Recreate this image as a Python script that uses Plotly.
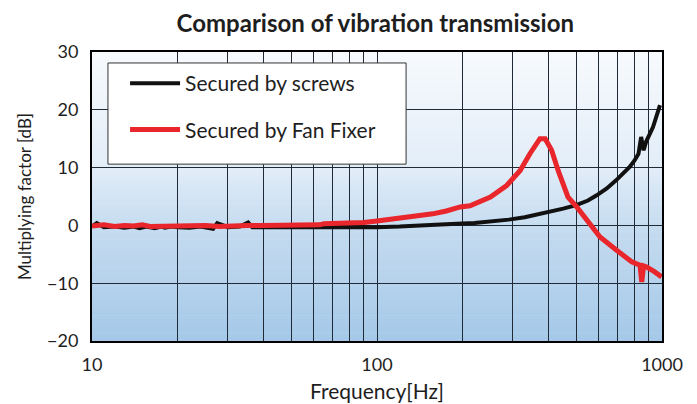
import plotly.graph_objects as go

# ---------------- data ----------------
freq_screws = [10, 10.4, 11, 12, 13, 14, 14.7, 15.5, 16.6, 17.5, 18, 19, 20, 22, 24, 26.6, 27.5, 30, 33,
               35.3, 36.5, 40, 45, 50, 55, 60, 65, 70, 80, 90, 100, 120, 140, 166, 190, 220, 250,
               290, 330, 370, 405, 450, 500, 550, 590, 640, 690, 730, 770, 800, 827, 845, 862,
               880, 930, 984]
val_screws = [-0.2, 0.4, -0.3, -0.2, -0.4, -0.2, -0.5, -0.2, -0.5, -0.2, -0.4, -0.2, -0.3, -0.4,
              -0.2, -0.6, 0.4, -0.3, -0.2, 0.5, -0.3, -0.3, -0.3, -0.3, -0.3, -0.3, -0.3, -0.35,
              -0.4, -0.4, -0.3, -0.2, 0.0, 0.2, 0.3, 0.4, 0.6, 1.0, 1.4, 1.9, 2.3, 2.9, 3.5, 4.3,
              5.2, 6.4, 7.8, 9.0, 10.1, 11.2, 12.4, 15.3, 13.0, 14.5, 17.0, 20.8]

freq_fan = [10, 11, 12, 13, 14, 15, 16, 18, 20, 22, 25, 28, 30, 35, 40, 50, 60, 63, 65, 70, 80,
            90, 100, 110, 121, 140, 157, 175, 196, 212, 230, 250, 285, 318, 344, 373, 389, 410,
            432, 468, 502, 544, 606, 693, 783, 837, 849, 862, 884, 940, 997]
val_fan = [-0.1, 0.1, -0.2, 0.0, -0.1, 0.1, -0.2, -0.1, 0.0, -0.1, 0.0, -0.2, -0.1, 0.0, 0.0,
           0.0, 0.0, 0.1, 0.3, 0.3, 0.4, 0.5, 0.75, 1.0, 1.3, 1.7, 2.0, 2.5, 3.2, 3.4, 4.2, 4.9,
           6.9, 9.5, 12.4, 15.0, 15.0, 13.0, 9.5, 4.9, 3.2, 0.9, -2.0, -4.3, -6.3, -6.9, -9.8,
           -7.0, -7.2, -8.0, -8.9]

series_names = ["Secured by screws", "Secured by Fan Fixer"]
title_text = "Comparison of vibration transmission"
x_title = "Frequency[Hz]"
y_title = "Multiplying factor [dB]"

x_grid_vals = [10, 20, 30, 40, 50, 60, 70, 80, 90, 100, 200, 300, 400, 500, 600, 700, 800, 900, 1000]
x_tick_text = ["10", "", "", "", "", "", "", "", "", "100", "", "", "", "", "", "", "", "", "1000"]
y_tick_vals = [-20, -10, 0, 10, 20, 30]

# ---------------- figure ----------------
FONT = "Lato"
TXT = "#1e1e1e"
fig = go.Figure()

fig.add_trace(go.Scatter(x=freq_screws, y=val_screws, mode="lines", name=series_names[0],
                         legendgroup="a", line=dict(color="#111111", width=4)))
fig.add_trace(go.Scatter(x=freq_fan, y=val_fan, mode="lines", name=series_names[1],
                         legendgroup="b", line=dict(color="#e8262b", width=5)))

# gradient background (style only)
stops = [(0.0, (164, 200, 232)), (0.4, (198, 220, 240)), (0.6, (226, 237, 248)), (1.0, (247, 250, 253))]
def col(t):
    for (t0, c0), (t1, c1) in zip(stops[:-1], stops[1:]):
        if t0 <= t <= t1:
            u = (t - t0) / (t1 - t0)
            return "rgb(%d,%d,%d)" % tuple(round(a + (b - a) * u) for a, b in zip(c0, c1))
    return "rgb(%d,%d,%d)" % stops[-1][1]
N = 80
shapes = []
for i in range(N):
    shapes.append(dict(type="rect", xref="x domain", yref="y domain", x0=0, x1=1,
                       y0=i / N, y1=(i + 1) / N + 0.002, fillcolor=col((i + 0.5) / N),
                       line=dict(width=0), layer="below"))
# legend box
shapes.append(dict(type="rect", xref="x domain", yref="y domain", x0=0.028, x1=0.551,
                   y0=0.612, y1=0.962, fillcolor="white", line=dict(color="#333333", width=1),
                   layer="above"))

fig.update_layout(
    width=697, height=404,
    margin=dict(l=84, r=43, t=44, b=71),
    paper_bgcolor="white", plot_bgcolor="white",
    shapes=shapes,
    title=dict(text="<b>" + title_text + "</b>", x=0.527, xanchor="center", y=1 - 16 / 404,
               yanchor="middle", yref="container", font=dict(family=FONT, size=24, color=TXT)),
    font=dict(family=FONT, size=18, color=TXT),
    legend=dict(x=0.058, y=0.962, xanchor="left", yanchor="top", bgcolor="rgba(0,0,0,0)",
                borderwidth=0, font=dict(size=21, family=FONT, color=TXT),
                tracegroupgap=16, itemwidth=50),
    showlegend=True,
)
fig.update_xaxes(type="log", range=[1, 3], tickvals=x_grid_vals, ticktext=x_tick_text,
                 showgrid=True, gridcolor="#1f2a36", gridwidth=1, showline=True, linecolor="black",
                 linewidth=2, mirror=True, ticks="", zeroline=False, automargin=False,
                 tickfont=dict(size=18), ticklabelstandoff=6,
                 title=dict(text=x_title, standoff=11, font=dict(size=21)))
fig.update_yaxes(range=[-20, 30], tickvals=y_tick_vals, showgrid=True, gridcolor="#1f2a36",
                 gridwidth=1, showline=True, linecolor="black", linewidth=2, mirror=True,
                 ticks="", zeroline=False, automargin=False, tickfont=dict(size=18),
                 ticklabelstandoff=8,
                 title=dict(text=y_title, standoff=11, font=dict(size=17)))

fig.write_html("out.html")
